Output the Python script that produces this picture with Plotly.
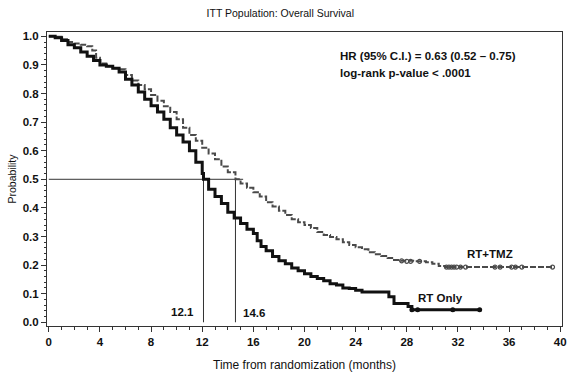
import plotly.graph_objects as go

# ---- data ----
rt_time = [0, 0.5, 1.0, 1.5, 2.0, 2.5, 3.0, 3.5, 4.0, 4.5, 5.0, 5.5, 6.0, 6.5, 7.0, 7.5,
           8.0, 8.5, 9.0, 9.5, 10.0, 10.5, 11.0, 11.5, 12.0, 12.1, 12.5, 13.0, 13.5, 14.0,
           14.5, 15.0, 15.5, 16.0, 16.3, 16.6, 17.0, 17.5, 18.0, 18.5, 19.0, 19.5, 20.0,
           20.5, 21.0, 21.5, 22.0, 22.5, 23.0, 23.5, 24.0, 24.5, 26.6, 27.0, 28.1, 28.4, 33.7]
rt_surv = [1.0, 0.995, 0.985, 0.97, 0.96, 0.945, 0.93, 0.915, 0.9, 0.895, 0.888, 0.875,
           0.85, 0.83, 0.805, 0.78, 0.757, 0.735, 0.71, 0.68, 0.655, 0.63, 0.6, 0.56, 0.52,
           0.5, 0.465, 0.44, 0.415, 0.385, 0.365, 0.345, 0.325, 0.31, 0.285, 0.265, 0.25,
           0.23, 0.215, 0.205, 0.19, 0.18, 0.17, 0.16, 0.153, 0.145, 0.135, 0.13, 0.12,
           0.118, 0.112, 0.106, 0.089, 0.066, 0.055, 0.044, 0.044]
rt_cens_time = [28.4, 28.85, 31.6, 33.7]
rt_cens_surv = [0.044, 0.044, 0.044, 0.044]

tmz_time = [0, 0.5, 1.0, 1.5, 2.0, 2.5, 3.0, 3.4, 3.7, 4.0, 4.5, 5.0, 5.5, 6.0, 6.5, 7.0,
            7.5, 8.0, 8.5, 9.0, 9.5, 10.0, 10.5, 11.0, 11.5, 12.0, 12.5, 13.0, 13.5, 14.0,
            14.6, 15.0, 15.5, 16.0, 16.5, 17.0, 17.5, 18.0, 18.5, 19.0, 19.5, 20.0, 20.5,
            21.0, 21.5, 22.0, 22.5, 23.0, 23.5, 24.0, 24.5, 25.0, 25.5, 26.0, 26.5, 27.0,
            27.5, 28.5, 29.5, 30.0, 30.5, 31.0, 39.4]
tmz_surv = [1.0, 0.998, 0.99, 0.98, 0.975, 0.97, 0.965, 0.95, 0.925, 0.905, 0.895, 0.888,
            0.885, 0.865, 0.845, 0.83, 0.815, 0.795, 0.775, 0.755, 0.735, 0.71, 0.68, 0.655,
            0.635, 0.61, 0.59, 0.57, 0.545, 0.525, 0.5, 0.485, 0.47, 0.455, 0.44, 0.42, 0.405,
            0.39, 0.375, 0.36, 0.35, 0.34, 0.33, 0.316, 0.305, 0.298, 0.29, 0.28, 0.27, 0.262,
            0.255, 0.245, 0.238, 0.232, 0.225, 0.218, 0.215, 0.213, 0.21, 0.205, 0.197, 0.193,
            0.193]
tmz_cens_time = [27.6, 28.0, 28.3, 29.0, 31.1, 31.3, 31.5, 31.7, 31.9, 32.2, 32.6,
                 34.9, 35.3, 36.2, 36.5, 37.0, 39.4]
tmz_cens_surv = [0.215, 0.213, 0.213, 0.213, 0.193, 0.193, 0.193, 0.193, 0.193, 0.193, 0.193,
                 0.193, 0.193, 0.193, 0.193, 0.193, 0.193]

median_rt = 12.1
median_tmz = 14.6
x_ticks = [0, 4, 8, 12, 16, 20, 24, 28, 32, 36, 40]
y_ticks = [0.0, 0.1, 0.2, 0.3, 0.4, 0.5, 0.6, 0.7, 0.8, 0.9, 1.0]

FONT = "Liberation Sans, Arial, sans-serif"

fig = go.Figure()

# RT+TMZ (dashed gray)
fig.add_trace(go.Scatter(x=tmz_time, y=tmz_surv, mode="lines", line_shape="hv",
                         line=dict(color="#4a4a4a", width=2, dash="6px,2px"),
                         showlegend=False, hoverinfo="skip"))
fig.add_trace(go.Scatter(x=tmz_cens_time, y=tmz_cens_surv, mode="markers",
                         marker=dict(symbol="circle-open", size=4, color="#4a4a4a",
                                     line=dict(width=1.2)),
                         showlegend=False, hoverinfo="skip"))
# RT only (solid black)
fig.add_trace(go.Scatter(x=rt_time, y=rt_surv, mode="lines", line_shape="hv",
                         line=dict(color="#111111", width=3),
                         showlegend=False, hoverinfo="skip"))
fig.add_trace(go.Scatter(x=rt_cens_time, y=rt_cens_surv, mode="markers",
                         marker=dict(symbol="circle", size=5, color="#111111"),
                         showlegend=False, hoverinfo="skip"))

# Median reference lines
line_style = dict(color="#333333", width=1)
fig.add_shape(type="line", x0=0, x1=15.2, y0=0.5, y1=0.5, line=line_style, layer="below")
fig.add_shape(type="line", x0=median_rt, x1=median_rt, y0=0, y1=0.5, line=line_style, layer="below")
fig.add_shape(type="line", x0=median_tmz, x1=median_tmz, y0=0, y1=0.5, line=line_style, layer="below")

ann_font = dict(family=FONT, size=11.5, color="#111111")
fig.add_annotation(x=11.5, y=0.036, text="<b>12.1</b>", showarrow=False,
                   xanchor="right", yanchor="middle", font=ann_font)
fig.add_annotation(x=15.0, y=0.033, text="<b>14.6</b>", showarrow=False,
                   xanchor="left", yanchor="middle", font=ann_font)
fig.add_annotation(x=34.5, y=0.238, text="<b>RT+TMZ</b>", showarrow=False,
                   xanchor="center", yanchor="middle", font=ann_font)
fig.add_annotation(x=30.6, y=0.085, text="<b>RT Only</b>", showarrow=False,
                   xanchor="center", yanchor="middle", font=ann_font)
fig.add_annotation(x=22.6, y=0.93, text="<b>HR (95% C.I.) = 0.63 (0.52 – 0.75)</b>",
                   showarrow=False, xanchor="left", yanchor="middle", font=ann_font)
fig.add_annotation(x=22.6, y=0.87, text="<b>log-rank p-value < .0001</b>",
                   showarrow=False, xanchor="left", yanchor="middle", font=ann_font)

fig.update_layout(
    width=572, height=376,
    margin=dict(l=47, r=10, t=32, b=50, autoexpand=False),
    paper_bgcolor="white", plot_bgcolor="white",
    font=dict(family=FONT, size=11, color="#111111"),
    title=dict(text="ITT Population: Overall Survival", x=0.49, xanchor="center",
               y=0.965, yanchor="middle", font=dict(family=FONT, size=10.5, color="#111111")),
    xaxis=dict(range=[-0.14, 40.14], tickvals=x_ticks, ticktext=[str(v) for v in x_ticks],
               automargin=False,
               ticks="outside", ticklen=5, tickcolor="#333", showgrid=False, zeroline=False,
               showline=True, linecolor="#333", linewidth=1, mirror=True,
               minor=dict(dtick=1, ticks="outside", ticklen=3, tickcolor="#333"),
               tickfont=dict(family=FONT, size=11.5, weight="bold"),
               title=dict(text="Time from randomization (months)", standoff=13,
                          font=dict(family=FONT, size=12))),
    yaxis=dict(range=[-0.013, 1.015], tickvals=y_ticks, ticktext=[f"{v:.1f}" for v in y_ticks],
               automargin=False,
               ticks="outside", ticklen=5, tickcolor="#333", showgrid=False, zeroline=False,
               showline=True, linecolor="#333", linewidth=1, mirror=True,
               minor=dict(dtick=0.02, ticks="outside", ticklen=2, tickcolor="#333"),
               tickfont=dict(family=FONT, size=11.5, weight="bold"),
               title=dict(text="Probability", standoff=4, font=dict(family=FONT, size=10.5))),
)

fig.write_html("out.html", config={"displayModeBar": False},
               post_script="document.body.style.margin='0';document.body.style.overflow='hidden';")
